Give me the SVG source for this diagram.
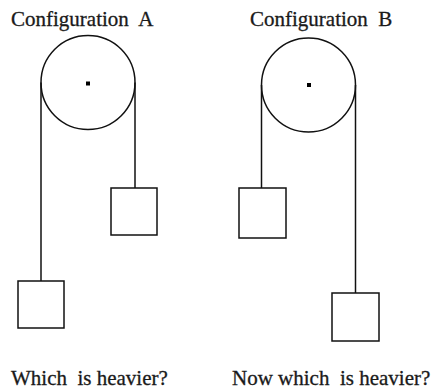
<svg xmlns="http://www.w3.org/2000/svg" width="432" height="392" viewBox="0 0 432 392">
<style>
.t{font-family:"Liberation Serif","Times New Roman",serif;font-size:21px;fill:#1a1a1a;stroke:#1a1a1a;stroke-width:0.3;white-space:pre}
.s{fill:none;stroke:#111;stroke-width:1.5}
.w{fill:#fff;stroke:#111;stroke-width:1.5}
.d{fill:#000}
</style>
<rect width="432" height="392" fill="#fff"/>
<g id="labels">
<text class="t" x="11" y="26" xml:space="preserve">Configuration  A</text>
<text class="t" x="250" y="26" xml:space="preserve">Configuration  B</text>
<text class="t" x="11" y="385" xml:space="preserve">Which  is heavier?</text>
<text class="t" x="232" y="385" xml:space="preserve">Now which  is heavier?</text>
</g>
<g id="connectors">
<line class="s" x1="41" y1="82.5" x2="41" y2="281"/>
<line class="s" x1="135" y1="82.5" x2="135" y2="188"/>
<line class="s" x1="261.5" y1="85" x2="261.5" y2="188"/>
<line class="s" x1="355.5" y1="85" x2="355.5" y2="293"/>
</g>
<g id="pulleyA">
<circle class="s" cx="88" cy="82.5" r="47"/>
<rect class="d" x="86" y="81.5" width="4" height="4"/>
</g>
<g id="pulleyB">
<circle class="s" cx="308.5" cy="85" r="47"/>
<rect class="d" x="307" y="83" width="4" height="4"/>
</g>
<g id="boxA1"><rect class="w" x="18" y="281" width="46" height="47"/></g>
<g id="boxA2"><rect class="w" x="111" y="188" width="46" height="47"/></g>
<g id="boxB1"><rect class="w" x="239" y="188" width="47" height="50"/></g>
<g id="boxB2"><rect class="w" x="332" y="293" width="47" height="48"/></g>
</svg>
